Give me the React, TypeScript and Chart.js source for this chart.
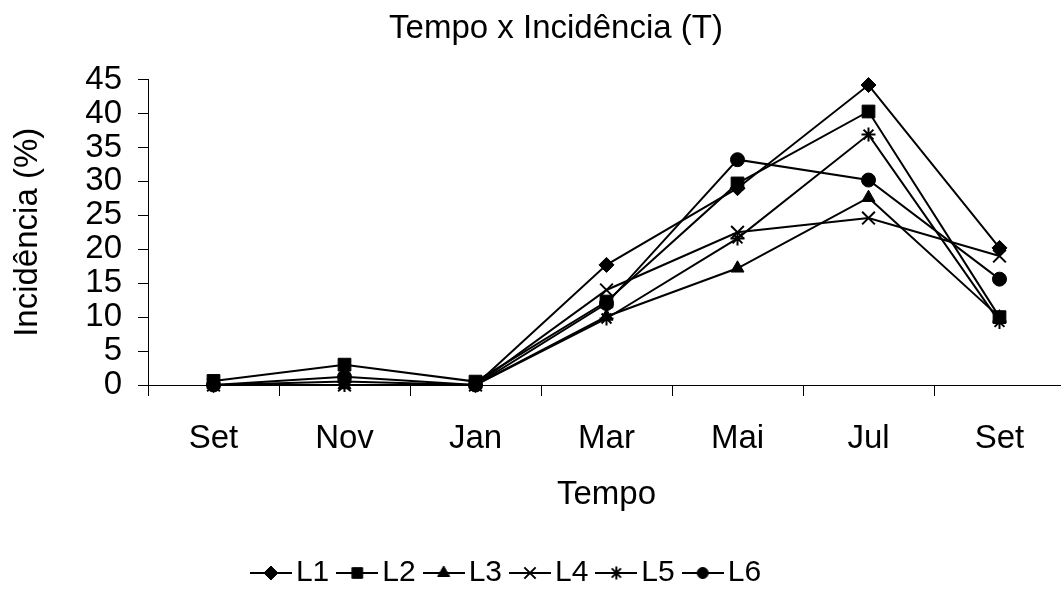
import React, { useEffect, useRef } from 'react';
import { Chart, registerables } from 'chart.js';
import { drawPoint } from 'chart.js/helpers';

Chart.register(...registerables);

// ---- data ----
const categories = ['Set', 'Nov', 'Jan', 'Mar', 'Mai', 'Jul', 'Set'];
const seriesNames = ['L1', 'L2', 'L3', 'L4', 'L5', 'L6'];
const l1 = [0, 0.5, 0, 17.7, 29, 44.2, 20.2];
const l2 = [0.6, 3, 0.5, 12.3, 29.7, 40.3, 10];
const l3 = [0, 0, 0, 10.1, 17.2, 27.6, 10];
const l4 = [0, 0, 0, 14, 22.5, 24.6, 19];
const l5 = [0, 0, 0, 9.8, 21.6, 36.9, 9.3];
const l6 = [0, 1.2, 0, 12, 33.2, 30.2, 15.6];
const yMin = 0;
const yMax = 45;
const yStep = 5;
const titleText = 'Tempo x Incidência (T)';
const xTitle = 'Tempo';
const yTitle = 'Incidência (%)';

// ---- styles ----
const FONT = "'Liberation Sans', Arial, sans-serif";
const markerStyles = ['rectRot', 'rect', 'triangle', 'crossRot', 'star', 'circle'];
const markerRadii = [7.5, 9, 7.5, 9, 7, 7];
const markerBorders = [1, 1, 1, 2, 2, 1];
const legendRadii = [7, 7.5, 7, 8, 6.5, 5.5];

const CANVAS_W = 1076;
const CANVAS_H = 591;
const GLYPH_W = 42;
const titleDx = 18;
const legendDx = -27;
const legendDy = 7;

function legendGlyph(style: string, radius: number, bw: number) {
  const c = document.createElement('canvas');
  c.width = GLYPH_W;
  c.height = 22;
  const ctx = c.getContext('2d') as CanvasRenderingContext2D;
  ctx.strokeStyle = '#000';
  ctx.fillStyle = '#000';
  ctx.lineWidth = 2;
  ctx.beginPath();
  ctx.moveTo(0, 11);
  ctx.lineTo(GLYPH_W, 11);
  ctx.stroke();
  ctx.lineWidth = bw;
  drawPoint(ctx, { pointStyle: style as any, radius, rotation: 0, borderWidth: bw } as any, GLYPH_W / 2, 11);
  return c;
}

const shiftPlugin = {
  id: 'shiftBoxes',
  afterLayout(chart: any) {
    const t = chart.titleBlock;
    if (t) {
      t.left += titleDx;
      t.right += titleDx;
    }
    const l = chart.legend;
    if (l) {
      l.left += legendDx;
      l.right += legendDx;
      l.top += legendDy;
      l.bottom += legendDy;
    }
  },
};

export default function App() {
  const ref = useRef<HTMLCanvasElement | null>(null);

  useEffect(() => {
    if (!ref.current) return;
    const series = [l1, l2, l3, l4, l5, l6];
    const glyphs = seriesNames.map((_, i) => legendGlyph(markerStyles[i], legendRadii[i], markerBorders[i]));
    const chart = new Chart(ref.current, {
      type: 'line',
      data: {
        labels: categories,
        datasets: series.map((d, i) => ({
          label: seriesNames[i],
          data: d,
          borderColor: '#000',
          backgroundColor: '#000',
          borderWidth: 2,
          pointStyle: markerStyles[i] as any,
          pointRadius: markerRadii[i],
          pointBorderWidth: markerBorders[i],
          pointBackgroundColor: '#000',
          pointBorderColor: '#000',
          tension: 0,
          clip: false as any,
        })),
      },
      options: {
        responsive: false,
        animation: false,
        layout: { padding: 0 },
        plugins: {
          title: {
            display: true,
            text: titleText,
            color: '#000',
            font: { family: FONT, size: 33, weight: 'normal' as any },
            padding: { top: 9, bottom: 31 },
          },
          legend: {
            position: 'bottom',
            labels: {
              usePointStyle: true,
              pointStyleWidth: 20,
              padding: 18,
              color: '#000',
              font: { family: FONT, size: 30 },
              generateLabels: (ch: any) =>
                ch.data.datasets.map((ds: any, i: number) => ({
                  text: ds.label,
                  datasetIndex: i,
                  pointStyle: glyphs[i],
                  fillStyle: '#000',
                  strokeStyle: '#000',
                  fontColor: '#000',
                  lineWidth: 0,
                  hidden: false,
                })),
            },
          },
          tooltip: { enabled: false },
        },
        scales: {
          x: {
            type: 'category',
            offset: true,
            grid: { offset: true, drawOnChartArea: false, tickLength: 11, color: '#000' },
            border: { color: '#000' },
            ticks: { color: '#000', font: { family: FONT, size: 33 }, padding: 23, maxRotation: 0, autoSkip: false },
            title: { display: true, text: xTitle, color: '#000', font: { family: FONT, size: 33 }, padding: { top: 0, bottom: 18 } },
            afterFit: (s: any) => {
              s.height = 148;
            },
          },
          y: {
            min: yMin,
            max: yMax,
            ticks: { stepSize: yStep, autoSkip: false, color: '#000', font: { family: FONT, size: 33 }, padding: 16 },
            grid: { drawOnChartArea: false, tickLength: 10, color: '#000' },
            border: { color: '#000' },
            title: { display: true, text: yTitle, color: '#000', font: { family: FONT, size: 33 }, padding: { top: 8, bottom: 0 } },
            afterFit: (s: any) => {
              s.width = 148;
            },
          },
        },
      },
      plugins: [shiftPlugin],
    });
    return () => chart.destroy();
  }, []);

  return (
    <div style={{ position: 'fixed', left: 0, top: 0, width: 1061, height: 591, overflow: 'hidden', background: '#fff' }}>
      <canvas ref={ref} width={CANVAS_W} height={CANVAS_H} style={{ display: 'block', width: CANVAS_W, height: CANVAS_H }} />
    </div>
  );
}
